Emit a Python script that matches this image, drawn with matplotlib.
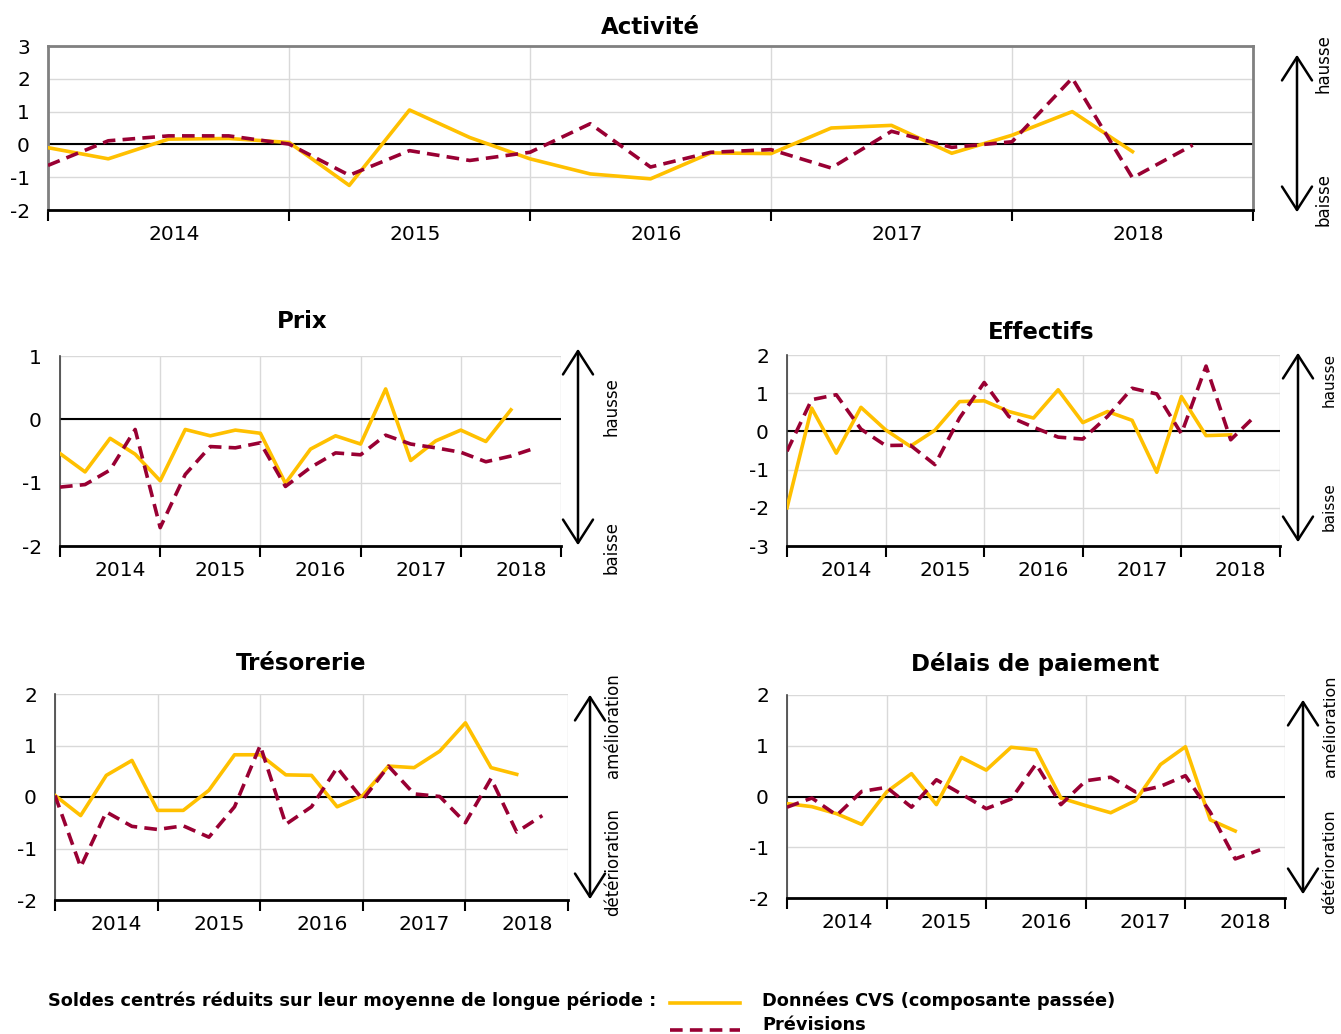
import numpy as np
import matplotlib
matplotlib.use('Agg')
import matplotlib.pyplot as plt
from matplotlib.patches import FancyArrowPatch

# 数据：季度值（2013T4 起），实线为 CVS 数据，虚线为预测
years = ['2014', '2015', '2016', '2017', '2018']

activite_cvs = [-0.1, -0.44, 0.16, 0.18, 0.06, -1.25, 1.05, 0.21, -0.44, -0.9,
                -1.05, -0.26, -0.28, 0.5, 0.58, -0.27, 0.28, 1.0, -0.22]
activite_prev = [-0.64, 0.11, 0.26, 0.26, 0.01, -0.94, -0.19, -0.49, -0.24, 0.63,
                 -0.69, -0.24, -0.16, -0.72, 0.4, -0.09, 0.08, 2.02, -1.02, -0.02]

prix_cvs = [-0.54, -0.83, -0.3, -0.55, -0.97, -0.16, -0.26, -0.17, -0.22, -1.01,
            -0.47, -0.26, -0.39, 0.48, -0.65, -0.34, -0.17, -0.35, 0.15]
prix_prev = [-1.07, -1.03, -0.8, -0.16, -1.71, -0.87, -0.43, -0.45, -0.37, -1.06,
             -0.76, -0.53, -0.56, -0.25, -0.39, -0.45, -0.52, -0.67, -0.58, -0.45]

effectifs_cvs = [-2.0, 0.61, -0.57, 0.63, 0.04, -0.39, 0.03, 0.78, 0.8, 0.52,
                 0.35, 1.09, 0.23, 0.52, 0.29, -1.07, 0.91, -0.11, -0.09]
effectifs_prev = [-0.52, 0.83, 0.96, 0.06, -0.37, -0.36, -0.87, 0.35, 1.28, 0.39,
                  0.11, -0.15, -0.2, 0.39, 1.13, 0.98, -0.06, 1.71, -0.22, 0.41]

tresorerie_cvs = [0.03, -0.36, 0.42, 0.71, -0.26, -0.26, 0.13, 0.82, 0.82, 0.43,
                  0.42, -0.19, 0.03, 0.6, 0.57, 0.89, 1.44, 0.57, 0.44]
tresorerie_prev = [0.03, -1.36, -0.29, -0.57, -0.63, -0.56, -0.78, -0.19, 1.0, -0.53,
                   -0.19, 0.57, -0.05, 0.6, 0.06, 0.01, -0.5, 0.36, -0.68, -0.36]

delais_cvs = [-0.14, -0.2, -0.34, -0.55, 0.09, 0.45, -0.16, 0.77, 0.52, 0.97,
              0.92, -0.03, -0.18, -0.32, -0.08, 0.63, 0.98, -0.46, -0.68]
delais_prev = [-0.21, -0.03, -0.37, 0.1, 0.18, -0.21, 0.33, 0.05, -0.24, -0.05,
               0.64, -0.16, 0.31, 0.38, 0.09, 0.2, 0.41, -0.31, -1.23, -1.05]

JAUNE = '#FFC000'
BORDEAUX = '#990033'
GRILLE = '#D9D9D9'

W, H = 1341, 1034
plt.rcParams['font.family'] = 'DejaVu Sans'
plt.rcParams['axes.unicode_minus'] = False
fig = plt.figure(figsize=(W / 100, H / 100), dpi=100)


def px(l, t, r, b):
    return [l / W, 1 - b / H, (r - l) / W, (b - t) / H]


def panneau(rect, cvs, prev, ylim, cadre=False, decal=0.4):
    ax = fig.add_axes(px(*rect))
    ax.plot(np.arange(len(cvs)), cvs, color=JAUNE, lw=2.6, zorder=3)
    ax.plot(np.arange(len(prev)), prev, color=BORDEAUX, lw=2.6, dashes=(3.5, 2), zorder=4)
    ax.axhline(0, color='black', lw=1.5, zorder=2)
    ax.set_xlim(0, 20)
    ax.set_ylim(*ylim)
    ax.set_yticks(np.arange(ylim[0], ylim[1] + 1))
    # graduations annuelles + étiquettes au milieu de chaque année
    ax.set_xticks(np.arange(0, 21, 4))
    ax.set_xticklabels([])
    ax.set_xticks(np.arange(2, 20, 4) + decal, minor=True)
    ax.set_xticklabels(years, minor=True)
    ax.tick_params(axis='x', which='major', length=8, width=1.5, direction='out', color='black')
    ax.tick_params(axis='x', which='minor', length=0, pad=11, labelsize=14.5)
    ax.tick_params(axis='y', length=0, pad=13, labelsize=14.5)
    ax.grid(True, which='major', color=GRILLE, lw=1, zorder=0)
    ax.set_axisbelow(True)
    ax.spines['bottom'].set_color('black')
    ax.spines['bottom'].set_linewidth(2)
    ax.spines['left'].set_color('#404040')
    ax.spines['left'].set_linewidth(1.2)
    if cadre:
        for s in ['top', 'right', 'left']:
            ax.spines[s].set_color('#808080')
            ax.spines[s].set_linewidth(2)
    else:
        ax.spines['top'].set_visible(False)
        ax.spines['right'].set_visible(False)
    return ax


def titre(x, y, s):
    fig.text(x / W, 1 - y / H, s, ha='center', va='center', fontsize=16.5, fontweight='bold')


def fleche(x, y1, y2, haut, bas, xt, yh, yb, fs=12):
    fig.add_artist(FancyArrowPatch((x / W, 1 - y1 / H), (x / W, 1 - y2 / H),
                                   transform=fig.transFigure,
                                   arrowstyle='<->,head_length=0.7,head_width=0.45',
                                   mutation_scale=24, lw=1.8, color='black'))
    fig.text(xt / W, 1 - yh / H, haut, rotation=90, ha='center', va='center', fontsize=fs)
    fig.text(xt / W, 1 - yb / H, bas, rotation=90, ha='center', va='center', fontsize=fs)


# Activité
panneau((48, 46, 1253, 210), activite_cvs, activite_prev, (-2, 3), cadre=True, decal=0.1)
titre(650, 27, 'Activité')
fleche(1297, 52, 215, 'hausse', 'baisse', 1323, 64, 199)

# Prix
panneau((60, 356, 561, 546), prix_cvs, prix_prev, (-2, 1))
titre(302, 322, 'Prix')
fleche(578, 346, 548, 'hausse', 'baisse', 611, 407, 548)

# Effectifs
panneau((787, 355, 1280, 546), effectifs_cvs, effectifs_prev, (-3, 2))
titre(1041, 332, 'Effectifs')
fleche(1298, 350, 545, 'hausse', 'baisse', 1329, 380, 507, fs=11)

# Trésorerie
panneau((55, 694, 568, 900), tresorerie_cvs, tresorerie_prev, (-2, 2))
titre(301, 664, 'Trésorerie')
fleche(590, 692, 902, 'amélioration', 'détérioration', 613, 726, 862)

# Délais de paiement
panneau((787, 695, 1285, 898), delais_cvs, delais_prev, (-2, 2))
titre(1035, 664, 'Délais de paiement')
fleche(1303, 697, 897, 'amélioration', 'détérioration', 1330, 726, 862, fs=11.5)

# légende en bas
fig.text(48 / W, 1 - 1001 / H, 'Soldes centrés réduits sur leur moyenne de longue période :',
         ha='left', va='center', fontsize=12.8, fontweight='bold')
fig.add_artist(plt.Line2D([670 / W, 740 / W], [1 - 1003 / H, 1 - 1003 / H],
                          transform=fig.transFigure, color=JAUNE, lw=2.6))
fig.add_artist(plt.Line2D([670 / W, 740 / W], [1 - 1030 / H, 1 - 1030 / H],
                          transform=fig.transFigure, color=BORDEAUX, lw=2.6, dashes=(3.5, 2)))
fig.text(762 / W, 1 - 1001 / H, 'Données CVS (composante passée)',
         ha='left', va='center', fontsize=12.8, fontweight='bold')
fig.text(762 / W, 1 - 1025 / H, 'Prévisions',
         ha='left', va='center', fontsize=12.8, fontweight='bold')

plt.savefig('out.png', dpi=100)
